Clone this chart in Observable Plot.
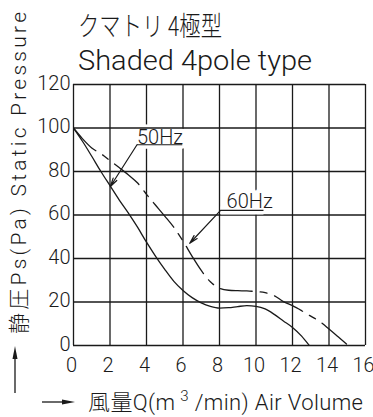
<!DOCTYPE html>
<html><head><meta charset="utf-8">
<script src="https://cdn.jsdelivr.net/npm/d3@7"></script>
<script src="https://cdn.jsdelivr.net/npm/@observablehq/plot@0.6"></script>
<style>
html,body{margin:0;padding:0;background:#fff;}
svg{display:block;}
</style>
</head><body><div id="chart"></div>
<script>
// ---- text ----
const titleJa = "クマトリ 4極型";
const titleEn = "Shaded 4pole type";
const yLabel = "静圧Ps(Pa) Static Pressure";
const xLabelMain = "風量Q(m";
const xLabelSup = "3";
const xLabelRest = " /min) Air Volume";

// ---- ticks ----
const xTicks = [0, 2, 4, 6, 8, 10, 12, 14, 16];
const yTicks = [0, 20, 40, 60, 80, 100, 120];

// ---- 50Hz curve (solid) ----
const flow50 = [0, 0.5, 1, 1.5, 2, 2.5, 3, 3.5, 4, 4.5, 5, 5.5, 6, 6.5, 7, 7.5, 8, 8.5, 9, 9.5, 10, 10.5, 11, 11.5, 12, 12.5, 12.92];
const pres50 = [100, 93.8, 87, 80, 73.5, 67, 61, 54.5, 47.5, 41, 35, 29.5, 25.3, 22, 19.6, 18, 17.2, 17.4, 17.9, 18.3, 18, 16.8, 14.3, 11.3, 8.3, 4.3, 0];

// ---- 60Hz curve (dashed) ----
const flow60 = [0, 0.5, 1, 1.5, 2, 2.5, 3, 3.5, 4, 4.5, 5, 5.5, 6, 6.5, 7, 7.5, 8, 8.5, 9, 9.5, 10, 10.5, 11, 11.5, 12, 12.5, 13, 13.5, 14, 14.5, 15.05];
const pres60 = [100, 95, 90.8, 88.2, 85, 81.8, 78.5, 74.8, 69.5, 64.5, 59.5, 54.3, 48, 41, 34.5, 29.3, 26.3, 25.4, 25.2, 25.1, 24.8, 24.3, 22.9, 20.2, 18.3, 16, 13.5, 11, 7.6, 4, 0];

// ---- annotations ----
const noteText = ["50Hz", "60Hz"];
const noteX = [3.48, 8.39];
const noteY = [95.8, 66.2];
const underX1 = [3.48, 8.06];
const underX2 = [5.96, 10.41];
const underY = [92.3, 62.1];
const tipX = [2.02, 6.37];
const tipY = [73.1, 47.0];

const ink = "#1a1a1a";
const font = "Roboto, 'Liberation Sans', Arial, 'Noto Sans CJK JP', sans-serif";

const d50 = flow50.map((x, i) => ({x, y: pres50[i]}));
const d60 = flow60.map((x, i) => ({x, y: pres60[i]}));
const notes = noteText.map((t, i) => ({
  t, lx: noteX[i], ly: noteY[i], ux1: underX1[i], ux2: underX2[i], uy: underY[i], tx: tipX[i], ty: tipY[i]
}));

const chart = Plot.plot({
  width: 373, height: 417,
  marginLeft: 73, marginRight: 8, marginTop: 84, marginBottom: 72,
  x: {domain: [0, 16]},
  y: {domain: [0, 120]},
  style: {fontFamily: font, fontWeight: 300, background: "white", color: ink, overflow: "visible"},
  marks: [
    Plot.ruleX(xTicks, {stroke: ink, strokeWidth: 1.3}),
    Plot.text(notes, {x: "lx", y: "ly", text: "t", textAnchor: "start", fontSize: 20, fill: "white", stroke: "white", strokeWidth: 9}),
    Plot.ruleY(yTicks, {stroke: ink, strokeWidth: 1.3}),
    Plot.link(notes, {x1: "ux1", x2: "ux2", y1: "uy", y2: "uy", stroke: "white", strokeWidth: 8}),
    Plot.line(d50, {x: "x", y: "y", curve: "monotone-x", stroke: ink, strokeWidth: 1.3, clip: true}),
    Plot.line(d60, {x: "x", y: "y", curve: "monotone-x", stroke: ink, strokeWidth: 1.3, strokeDasharray: "32,8,7,8", clip: true}),
    Plot.text(notes, {x: "lx", y: "ly", text: "t", textAnchor: "start", fontSize: 20, fill: ink}),
    Plot.link(notes, {x1: "ux1", x2: "ux2", y1: "uy", y2: "uy", stroke: ink, strokeWidth: 1.2}),
    Plot.arrow(notes, {x1: "ux1", y1: "uy", x2: "tx", y2: "ty", stroke: ink, strokeWidth: 1.2, headLength: 11, headAngle: 28}),
    Plot.axisX(xTicks, {tickSize: 0, tickPadding: 12, fontSize: 20, dx: -2, label: null}),
    Plot.axisY(yTicks, {tickSize: 0, tickPadding: 3, fontSize: 20, dy: -1, label: null})
  ]
});

document.getElementById("chart").appendChild(chart);

const svg = d3.select(chart);
const g = svg.append("g").attr("text-anchor", "start").attr("fill", ink).attr("font-weight", 300);
g.append("text")
  .attr("x", 78).attr("y", 36)
  .attr("font-family", "'Noto Sans CJK JP', sans-serif")
  .attr("font-size", 27)
  .attr("textLength", 144).attr("lengthAdjust", "spacingAndGlyphs")
  .text(titleJa);
g.append("text")
  .attr("x", 78).attr("y", 70)
  .attr("font-family", font)
  .attr("font-size", 28)
  .attr("textLength", 234).attr("lengthAdjust", "spacingAndGlyphs")
  .text(titleEn);
g.append("text")
  .attr("transform", "translate(26,334) rotate(-90)")
  .attr("font-family", font)
  .attr("font-size", 21)
  .attr("textLength", 322).attr("lengthAdjust", "spacing")
  .text(yLabel);
const xl = g.append("text")
  .attr("x", 88).attr("y", 410)
  .attr("font-family", font)
  .attr("font-size", 22)
  .attr("textLength", 275).attr("lengthAdjust", "spacing");
xl.append("tspan").text(xLabelMain);
xl.append("tspan").attr("dx", 5).attr("dy", -9).attr("font-size", 15).text(xLabelSup);
xl.append("tspan").attr("dy", 9).text(xLabelRest);

// decorative axis-direction arrows
svg.append("path").attr("d", "M15,393V356").attr("stroke", ink).attr("stroke-width", 1.3).attr("fill", "none");
svg.append("path").attr("d", "M15,346L12.5,359L17.5,359Z").attr("fill", ink);
svg.append("path").attr("d", "M42,402H64").attr("stroke", ink).attr("stroke-width", 1.3).attr("fill", "none");
svg.append("path").attr("d", "M75,402L62,399.5L62,404.5Z").attr("fill", ink);
</script>
</body></html>
